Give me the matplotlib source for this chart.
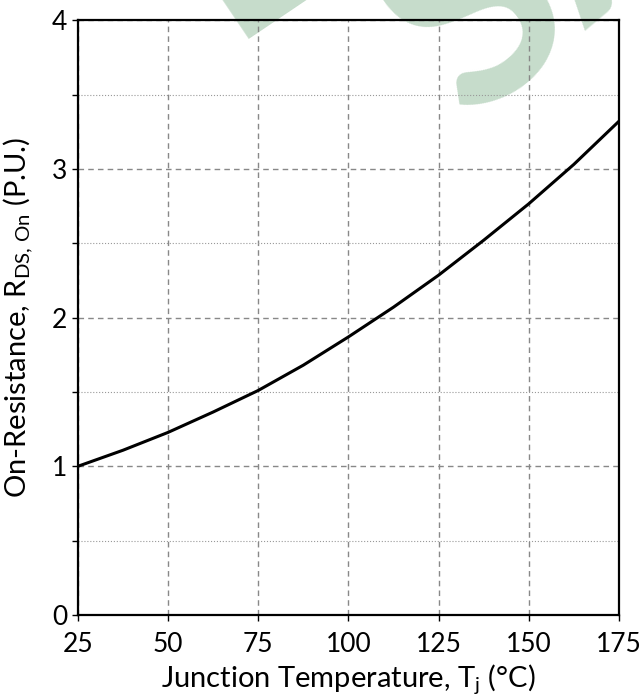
import matplotlib
matplotlib.use("Agg")
import matplotlib.pyplot as plt
from matplotlib.ticker import MultipleLocator

# junction temperature (C) and normalised on-resistance
temp = [25, 37.5, 50, 62.5, 75, 87.5, 100, 112.5, 125, 137.5, 150, 162.5, 175]
rds_on = [1.00, 1.108, 1.228, 1.365, 1.51, 1.68, 1.87, 2.07, 2.285, 2.52, 2.765, 3.03, 3.32]

x_ticks = [25, 50, 75, 100, 125, 150, 175]
y_ticks = [0, 1, 2, 3, 4]

plt.rcParams['font.family'] = ['Lato', 'DejaVu Sans']
plt.rcParams['mathtext.fontset'] = 'custom'
plt.rcParams['mathtext.rm'] = 'Lato'
plt.rcParams['mathtext.it'] = 'Lato:italic'

fig = plt.figure(figsize=(6.44, 6.96), dpi=100)
ax = fig.add_axes([0.121, 0.1164, 0.840, 0.8546])
ax.patch.set_facecolor('none')

# faint watermark behind everything, mostly cut off by the top edge
wm = dict(rotation_mode='anchor', ha='left', va='baseline',
          fontsize=200, fontweight='bold', color='#c6dccb', zorder=-5)
fig.text(0.352, 0.944, "E", rotation=34, **wm)
fig.text(0.728, 0.822, "SA", rotation=40, **wm)

ax.plot(temp, rds_on, color='black', lw=2.2, zorder=3)

ax.set_xlim(25, 175)
ax.set_ylim(0, 4)
ax.set_xticks(x_ticks)
ax.set_yticks(y_ticks)
ax.yaxis.set_minor_locator(MultipleLocator(0.5))

ax.grid(which='major', color='#888888', linestyle=(0, (4, 3)), lw=1)
ax.grid(which='minor', axis='y', color='#999999', linestyle=':', lw=0.8)

ax.tick_params(which='both', direction='out', length=4, width=1, labelsize=19)
ax.tick_params(axis='x', pad=8)
for s in ax.spines.values():
    s.set_linewidth(1.6)

ax.set_xlabel(r"Junction Temperature, T$_\mathrm{j}$ ($\degree$C)", fontsize=21)
ax.set_ylabel(r"On-Resistance, R$_\mathrm{DS,\,On}$ (P.U.)", fontsize=21)
ax.xaxis.set_label_coords(0.5, -0.079)
ax.yaxis.set_label_coords(-0.08, 0.5)

fig.savefig("out.png", dpi=100)
